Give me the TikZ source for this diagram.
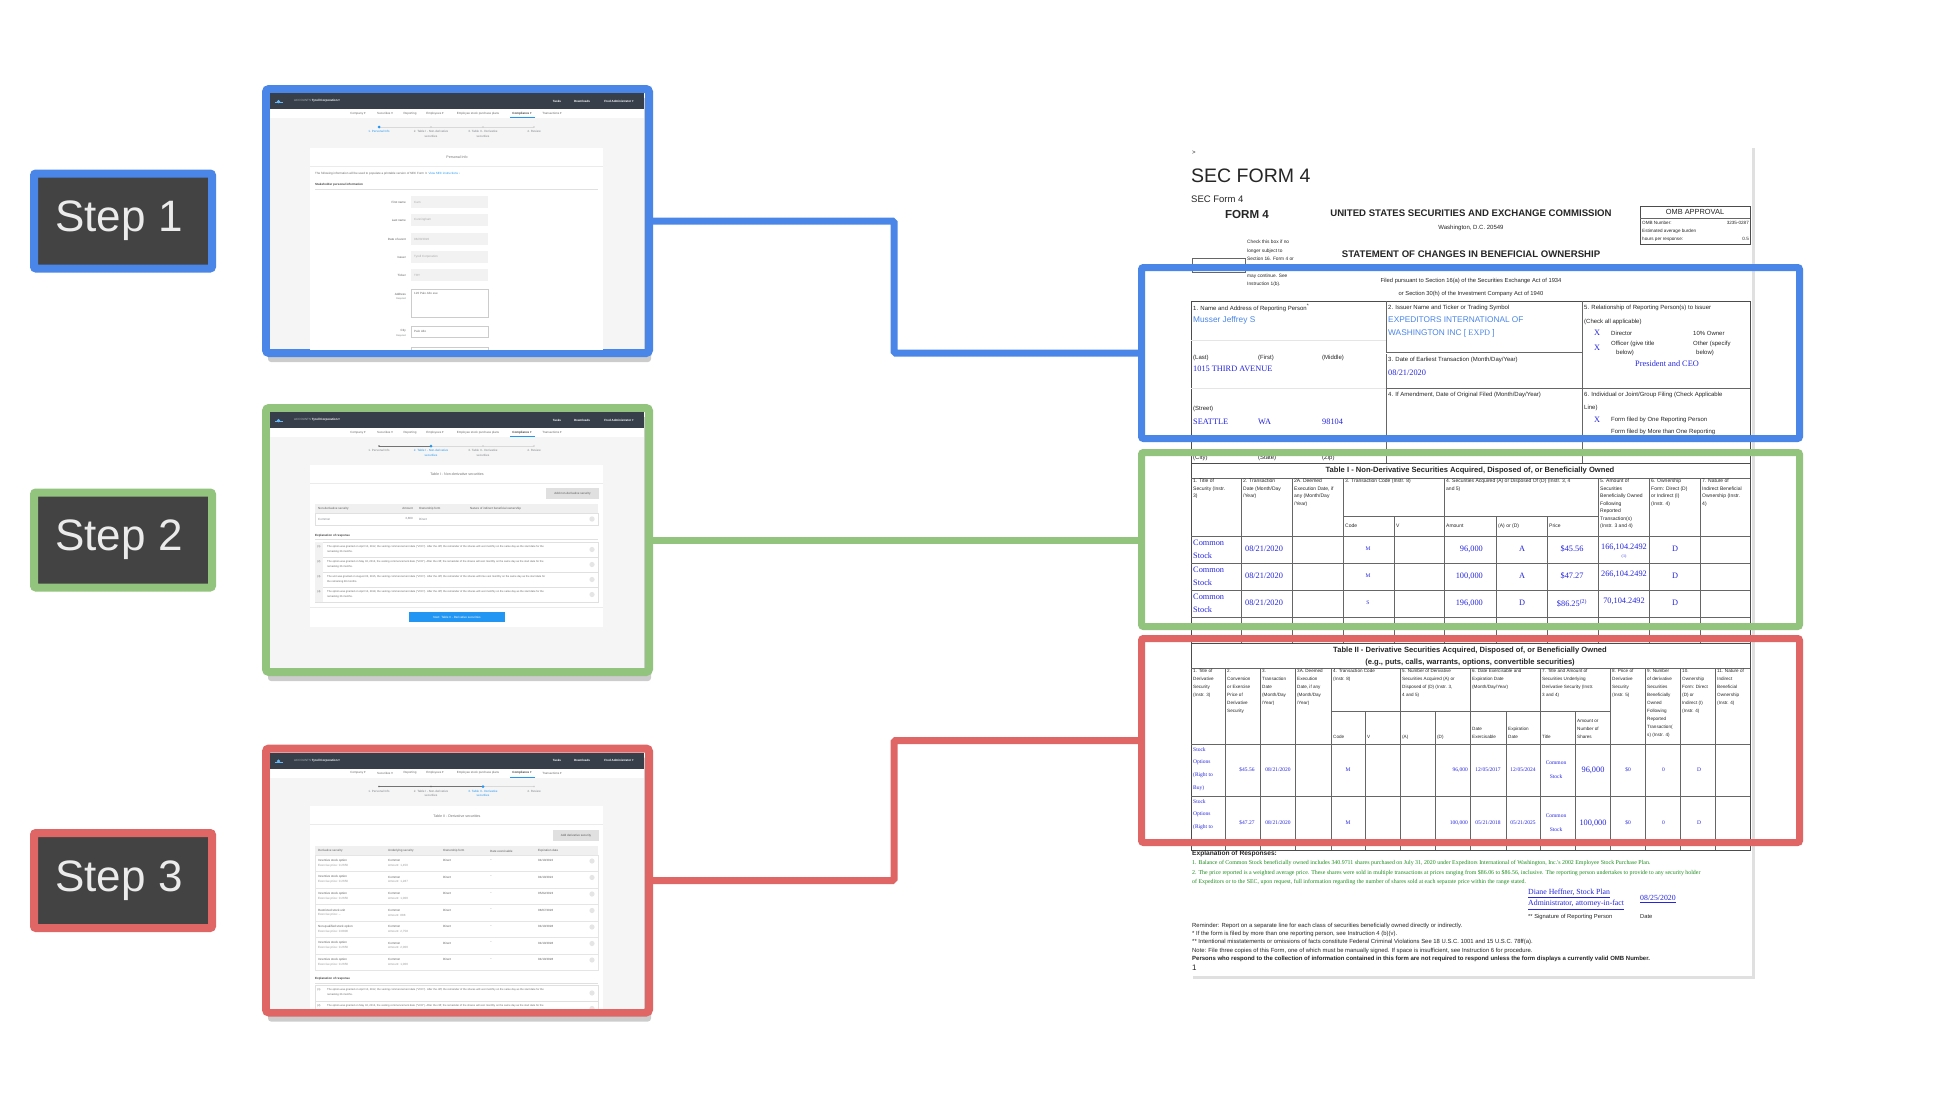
\documentclass[tikz,border=0pt]{standalone}
\usepackage{fontspec}
\setmainfont{Liberation Sans}
\newfontfamily\serifface{Liberation Serif}
\newfontfamily\symface{DejaVu Sans}
\usepackage{tikz}
\usepackage{xcolor}
\usetikzlibrary{positioning, shadows}

\definecolor{stepblue}{HTML}{4A86E8}
\definecolor{stepgreen}{HTML}{93C47D}
\definecolor{stepred}{HTML}{E06666}
\definecolor{stepfill}{HTML}{434343}
\definecolor{uidark}{HTML}{37404A}
\definecolor{uibg}{HTML}{F5F5F5}
\definecolor{uiblue}{HTML}{2196F3}
\definecolor{uitext}{HTML}{7D8288}
\definecolor{formblue}{HTML}{4A86E8}
\definecolor{valblue}{HTML}{2525E0}
\definecolor{notegreen}{HTML}{1B8A1B}

\newcommand{\fsz}[2]{\fontsize{#1}{#2}\selectfont}
\newcommand{\dropd}{{\symface ▾}}

\tikzset{
  uitx/.style={inner sep=0pt, font=\fsz{3}{4.4}, text=uitext},
  ftx/.style={inner sep=0pt, anchor=west, font=\fsz{6}{7}, text=black!85},
  fhead/.style={inner sep=0pt, anchor=north west, align=left, font=\fsz{5}{7.5}, text=black!85},
  fval/.style={inner sep=0pt, font=\serifface\fsz{8.3}{9.5}, text=valblue},
  fvs/.style={inner sep=0pt, font=\serifface\fsz{5.5}{6.5}, text=valblue},
  fsans/.style={inner sep=0pt, anchor=west, font=\fsz{8.3}{10}, text=formblue},
  fline/.style={draw=black!60, line width=.5pt},
  fbox/.style={draw=black!70, line width=.8pt},
}

% header, menu and wizard steps of one app screenshot (local y from its top)
\newcommand{\uichrome}[1]{%
  \fill[uibg] (270,0) rectangle (644,256);
  \fill[uidark] (270,0) rectangle (644,16);
  \fill[uiblue!70!white] (275,9) rectangle (283,10.4);
  \fill[uiblue!70!white] (278.5,8.6) circle (1.7);
  \node[uitx, anchor=west, text=white!60!uidark] at (294,8) {ACCOUNTS \textcolor{white}{\textbf{Tyrell Corporation} \dropd}};
  \node[uitx, text=white] at (557,8) {\textbf{Tasks}};
  \node[uitx, text=white] at (582,8) {\textbf{Downloads}};
  \node[uitx, text=white] at (619,8) {\textbf{Fred Administrator} \dropd};
  \fill[white] (270,16) rectangle (644,25);
  \foreach \nx/\navlab in {358/{Company \dropd}, 385/{Securities \dropd}, 410/Reporting,
      435/{Employees \dropd}, 478/Employee stock purchase plans, 552/{Transactions \dropd}}
    \node[uitx, text=black!60] at (\nx,20.5) {\navlab};
  \node[uitx, text=black!75] at (522,20.5) {\textbf{Compliance} \dropd};
  \draw[uiblue, line width=.7pt] (510,24.6) -- (535,24.6);
  \draw[black!15, line width=.6pt] (379,34) -- (534,34);
  \ifnum#1>1 \draw[black!55, line width=.6pt] (379,34) -- ({379+52*(#1-1)},34);\fi
  \foreach \s/\sx/\slab in {1/379/{1. Personal Info}, 2/431/{2. Table I - Non-derivative\\securities},
      3/483/{3. Table II - Derivative\\securities}, 4/534/{4. Review}} {
    \ifnum\s=#1\relax
      \fill[uiblue] (\sx,34) circle (1.5);
      \node[uitx, text=uiblue, anchor=north, align=center] at (\sx,37.5) {\slab};
    \else
      \ifnum\s<#1\relax \fill[black!60] (\sx,34) circle (.9);\else \fill[black!20] (\sx,34) circle (.9);\fi
      \node[uitx, anchor=north, align=center] at (\sx,37.5) {\slab};
    \fi
  }
}

\begin{document}
\begin{tikzpicture}[x=1pt, y=-1pt,
    stepbox/.style={draw=#1, line width=8pt, fill=stepfill, rounded corners=2pt,
      minimum width=178pt, minimum height=95pt, text=white!92!black, font=\fsz{44}{50}},
    shotframe/.style={draw=#1, line width=8pt, rounded corners=3pt,
      minimum width=383pt, minimum height=264pt,
      drop shadow={shadow xshift=2pt, shadow yshift=-9pt, opacity=.2, fill=black}},
    hlbox/.style={draw=#1, line width=7pt, rounded corners=2pt, inner sep=0pt, minimum width=658pt},
    link/.style={draw=#1, line width=7pt, rounded corners=1.5pt},
    formsheet/.style={fill=white, inner sep=0pt, minimum width=562pt, minimum height=831pt,
      drop shadow={shadow xshift=2.5pt, shadow yshift=-3pt, opacity=.12, fill=black}}]

\useasboundingbox (0,0) rectangle (1957,1100);
\fill[white] (0,0) rectangle (1957,1100);

% screenshots of the three wizard pages
\node[shotframe=stepblue] (shot1) at (457.5,221) {};
\node[shotframe=stepgreen] (shot2) at (457.5,540) {};
\node[shotframe=stepred] (shot3) at (457.5,880.5) {};

% step 1: personal info
\begin{scope}[shift={(0,93)}]
  \clip (270,0) rectangle (644,256);
  \uichrome{1}
  \fill[white] (310,55) rectangle (603,270);
  \node[uitx, font=\fsz{3.6}{4.4}, text=black!55] at (457,64) {Personal Info};
  \draw[black!8, line width=.6pt] (310,73) -- (603,73);
  \node[uitx, anchor=west, text=black!60] at (315,81) {The following information will be used to populate a printable version of SEC Form 3. \textcolor{uiblue}{View SEC instructions ›}};
  \node[uitx, anchor=west, text=black!75] at (315,92) {\textbf{Stakeholder personal information}};
  \draw[black!12, line width=.5pt] (315,96) -- (598,96);
  \foreach \fy/\fname/\fvalue in {109/First name/Cam, 127/Last name/Cunningham,
      146/Date of event/{08/20/2020}, 164/Issuer/Tyrell Corporation, 182/Ticker/TRY} {
    \node[uitx, anchor=east, text=black!65] at (406,\fy) {\fname};
    \fill[black!5] (411,\fy-5.6) rectangle (488,\fy+5.6);
    \node[uitx, anchor=west, text=black!35] at (414,\fy) {\fvalue};
  }
  \node[uitx, anchor=east, text=black!65] at (406,201) {Address};
  \node[uitx, anchor=east, font=\fsz{2.4}{3}] at (406,206) {Required};
  \draw[black!20, fill=white, line width=.4pt] (411,196) rectangle (488,224);
  \node[uitx, anchor=west, text=black!60] at (414,200) {120 Palo Alto ave};
  \node[uitx, anchor=east, text=black!65] at (406,238) {City};
  \node[uitx, anchor=east, font=\fsz{2.4}{3}] at (406,243) {Required};
  \draw[black!20, fill=white, line width=.4pt] (411,233) rectangle (488,244);
  \node[uitx, anchor=west, text=black!60] at (414,238.5) {Palo Alto};
  \draw[black!20, fill=white, line width=.4pt] (411,254) rectangle (488,266);
\end{scope}

% step 2: table I
\begin{scope}[shift={(0,412)}]
  \clip (270,0) rectangle (644,256);
  \uichrome{2}
  \fill[white] (310,53) rectangle (603,215);
  \node[uitx, font=\fsz{3.6}{4.4}, text=black!55] at (457,62) {Table I - Non-derivative securities};
  \draw[black!8, line width=.6pt] (310,71) -- (603,71);
  \fill[black!12] (546,76) rectangle (599,87);
  \node[uitx, text=black!65] at (572.5,81.5) {Add non-derivative security};
  \fill[black!6] (315,92) rectangle (598,101);
  \node[uitx, anchor=west, text=black!65] at (318,96.5) {Non-derivative security};
  \node[uitx, anchor=east, text=black!65] at (413,96.5) {Amount};
  \node[uitx, anchor=west, text=black!65] at (419,96.5) {Ownership form};
  \node[uitx, anchor=west, text=black!65] at (470,96.5) {Nature of indirect beneficial ownership};
  \draw[black!12, fill=white, line width=.4pt] (315,101) rectangle (598,113);
  \node[uitx, anchor=west] at (318,107) {Common};
  \node[uitx, anchor=east] at (413,107) {3,809};
  \node[uitx, anchor=west] at (419,107) {Direct};
  \fill[black!10] (592,107) circle (2.7);
  \node[uitx, anchor=west, text=black!75] at (315,124) {\textbf{Explanation of response}};
  \draw[black!12, line width=.5pt] (315,127) -- (598,127);
  \foreach \k/\et/\eu in {
      1/{The option was granted on April 10, 2012, the vesting commencement date ("VCD"). After the cliff, the remainder of the shares will vest monthly on the same day as the start date for the}/{remaining 36 months.},
      2/{The option was granted on May 02, 2013, the vesting commencement date ("VCD"). After the cliff, the remainder of the shares will vest monthly on the same day as the start date for the}/{remaining 36 months.},
      3/{The unit was granted on August 03, 2015, the vesting commencement date ("VCD"). After the cliff, the remainder of the shares will time vest monthly on the same day as the start date for}/{the remaining 28 months.},
      4/{The option was granted on April 10, 2018, the vesting commencement date ("VCD"). After the cliff, the remainder of the shares will vest monthly on the same day as the start date for the}/{remaining 36 months.}} {
    \pgfmathsetmacro\ey{130+15*(\k-1)}
    \draw[black!12, fill=white, line width=.4pt] (315,\ey) rectangle (598,\ey+15);
    \fill[black!5] (315.3,\ey+.3) rectangle (323,\ey+14.7);
    \node[uitx, font=\fsz{2.6}{3}, text=black!65] at (319,\ey+5) {(\k)};
    \node[uitx, anchor=west, font=\fsz{2.65}{3}, text=black!60] at (327,\ey+5) {\et};
    \node[uitx, anchor=west, font=\fsz{2.65}{3}, text=black!60] at (327,\ey+9.8) {\eu};
    \fill[black!10] (592,\ey+7.5) circle (2.6);
  }
  \draw[black!8, line width=.6pt] (310,195) -- (603,195);
  \fill[uiblue] (409,200) rectangle (505,210);
  \node[uitx, text=white] at (457,205) {Next: Table II - Derivative securities};
\end{scope}

% step 3: table II
\begin{scope}[shift={(0,752.5)}]
  \clip (270,0) rectangle (644,256);
  \uichrome{3}
  \fill[white] (310,53.5) rectangle (603,270);
  \node[uitx, font=\fsz{3.6}{4.4}, text=black!55] at (457,63.5) {Table II - Derivative securities};
  \draw[black!8, line width=.6pt] (310,71.5) -- (603,71.5);
  \fill[black!12] (553,77.5) rectangle (599,88.5);
  \node[uitx, text=black!65] at (576,83) {Add derivative security};
  \fill[black!6] (315,93.5) rectangle (598,102.5);
  \foreach \hx/\hl in {318/Derivative security, 388/Underlying security, 443/Ownership form,
      490/Date exercisable, 538/Expiration date}
    \node[uitx, anchor=west, text=black!65] at (\hx,98.5) {\hl};
  \foreach \k/\da/\db/\ub/\ex in {
      1/Incentive stock option/{Exercise price: 0.2650}/{Amount: 1,450}/{04/10/2022},
      2/Incentive stock option/{Exercise price: 0.2650}/{Amount: 1,287}/{04/10/2022},
      3/Incentive stock option/{Exercise price: 0.2650}/{Amount: 1,000}/{05/02/2023},
      4/Restricted stock unit/{Exercise price: --}/{Amount: 888}/{08/07/2026},
      5/Non-qualified stock option/{Exercise price: 0.8800}/{Amount: 2,758}/{04/10/2028},
      6/Incentive stock option/{Exercise price: 0.2650}/{Amount: 2,000}/{04/10/2028},
      7/Incentive stock option/{Exercise price: 0.2650}/{Amount: 1,000}/{04/10/2028}} {
    \pgfmathsetmacro\ry{102.5+16.5*(\k-1)}
    \draw[black!10, fill=white, line width=.4pt] (315,\ry) rectangle (598,\ry+16.5);
    \node[uitx, anchor=west, text=black!65] at (318,\ry+5.5) {\da};
    \node[uitx, anchor=west, text=black!40] at (318,\ry+10.5) {\db};
    \node[uitx, anchor=west, text=black!65] at (388,\ry+5.5) {Common};
    \node[uitx, anchor=west, text=black!40] at (388,\ry+10.5) {\ub};
    \node[uitx, anchor=west, text=black!65] at (443,\ry+5.5) {Direct};
    \node[uitx, anchor=west, text=black!50] at (490,\ry+5) {--};
    \node[uitx, anchor=west, text=black!65] at (538,\ry+5.5) {\ex};
    \fill[black!10] (592,\ry+6) circle (2.6);
  }
  \node[uitx, anchor=west, text=black!75] at (315,226.5) {\textbf{Explanation of response}};
  \draw[black!12, line width=.5pt] (315,230.5) -- (598,230.5);
  \draw[black!12, fill=white, line width=.4pt] (315,232.5) rectangle (598,248.5);
  \draw[black!12, fill=white, line width=.4pt] (315,248.5) rectangle (598,264.5);
  \node[uitx, font=\fsz{2.6}{3}, text=black!65] at (319,237.5) {(1)};
  \node[uitx, anchor=west, font=\fsz{2.65}{3}, text=black!60] at (327,237.5) {The option was granted on April 10, 2012, the vesting commencement date ("VCD"). After the cliff, the remainder of the shares will vest monthly on the same day as the start date for the};
  \node[uitx, anchor=west, font=\fsz{2.65}{3}, text=black!60] at (327,242.5) {remaining 36 months.};
  \fill[black!10] (592,240.5) circle (2.6);
  \node[uitx, font=\fsz{2.6}{3}, text=black!65] at (319,253) {(2)};
  \node[uitx, anchor=west, font=\fsz{2.65}{3}, text=black!60] at (327,253) {The option was granted on May 02, 2013, the vesting commencement date ("VCD"). After the cliff, the remainder of the shares will vest monthly on the same day as the start date for the};
  \fill[black!10] (592,256) circle (2.6);
\end{scope}

% step labels
\node[stepbox=stepblue, left=46pt of shot1] (step1) {\hspace*{-8pt}Step 1};
\node[stepbox=stepgreen, left=46pt of shot2] (step2) {\hspace*{-8pt}Step 2};
\node[stepbox=stepred, left=46pt of shot3] (step3) {\hspace*{-8pt}Step 3};

% SEC form 4
\node[formsheet] (form) at (1471,560.5) {};
\node[ftx] at (1192,153) {>};
\node[ftx, font=\fsz{19.5}{22}] at (1191,176) {SEC FORM 4};
\node[ftx, font=\fsz{9.5}{11}] at (1191,199) {SEC Form 4};
\node[ftx, anchor=center, font=\bfseries\fsz{11.6}{13}] at (1247,215) {FORM 4};
\node[ftx, anchor=center, font=\bfseries\fsz{9.6}{11}] at (1471,213) {UNITED STATES SECURITIES AND EXCHANGE COMMISSION};
\node[ftx, anchor=center] at (1471,228) {Washington, D.C. 20549};
\draw[fbox] (1640,206) rectangle (1750,244);
\draw[fline] (1640,218) -- (1750,218);
\node[ftx, anchor=center, font=\fsz{7.4}{8}] at (1695,212) {OMB APPROVAL};
\node[ftx, font=\fsz{4.6}{5}] at (1642,223) {OMB Number:};
\node[ftx, anchor=east, font=\fsz{4.6}{5}] at (1749,223) {3235-0287};
\node[ftx, font=\fsz{4.6}{5}] at (1642,231.5) {Estimated average burden};
\node[ftx, font=\fsz{4.6}{5}] at (1642,239) {hours per response:};
\node[ftx, anchor=east, font=\fsz{4.6}{5}] at (1749,239) {0.5};
\draw[black!60, line width=.6pt] (1192,258) rectangle (1245,272);
\node[ftx, anchor=north west, align=left, font=\fsz{4.8}{8.4}] at (1247,240) {Check this box if no\\longer subject to\\Section 16. Form 4 or\\Form 5 obligations\\may continue. See\\Instruction 1(b).};
\node[ftx, anchor=center, font=\bfseries\fsz{9.6}{11}] at (1471,254) {STATEMENT OF CHANGES IN BENEFICIAL OWNERSHIP};
\node[ftx, anchor=center, font=\fsz{5.8}{7}] at (1471,281) {Filed pursuant to Section 16(a) of the Securities Exchange Act of 1934};
\node[ftx, anchor=center, font=\fsz{5.8}{7}] at (1471,294) {or Section 30(h) of the Investment Company Act of 1940};

% boxes 1 to 6
\draw[fbox] (1191,301) rectangle (1750,463);
\draw[fline] (1386,301) -- (1386,463);
\draw[fline] (1582,301) -- (1582,463);
\draw[fline, double=white, double distance=.6pt] (1386,353) -- (1582,353);
\draw[fline] (1386,388) -- (1750,388);
\draw[black!10, line width=.6pt] (1191,340) -- (1386,340);
\draw[black!10, line width=.6pt] (1191,388) -- (1386,388);
\node[ftx] at (1193,308) {1. Name and Address of Reporting Person\textsuperscript{*}};
\node[fsans] at (1193,320) {Musser Jeffrey S};
\node[ftx] at (1193,358) {(Last)};
\node[ftx] at (1258,358) {(First)};
\node[ftx] at (1322,358) {(Middle)};
\node[fval, anchor=west] at (1193,369) {1015 THIRD AVENUE};
\node[ftx] at (1193,409) {(Street)};
\node[fval, anchor=west] at (1193,422) {SEATTLE};
\node[fval, anchor=west] at (1258,422) {WA};
\node[fval, anchor=west] at (1322,422) {98104};
\node[ftx] at (1193,458) {(City)};
\node[ftx] at (1258,458) {(State)};
\node[ftx] at (1322,458) {(Zip)};
\node[ftx] at (1388,308) {2. Issuer Name and Ticker or Trading Symbol};
\node[fsans] at (1388,320) {EXPEDITORS INTERNATIONAL OF};
\node[fsans] at (1388,333) {WASHINGTON INC [ {\serifface EXPD} ]};
\node[ftx] at (1388,360) {3. Date of Earliest Transaction (Month/Day/Year)};
\node[fval, anchor=west] at (1388,373) {08/21/2020};
\node[ftx] at (1388,395) {4. If Amendment, Date of Original Filed (Month/Day/Year)};
\node[ftx] at (1584,308) {5. Relationship of Reporting Person(s) to Issuer};
\node[ftx] at (1584,322) {(Check all applicable)};
\node[fval] at (1597,333) {X};
\node[ftx] at (1611,333) {Director};
\node[ftx] at (1693,333) {10\% Owner};
\node[fval] at (1597,348) {X};
\node[ftx] at (1611,344) {Officer (give title};
\node[ftx] at (1616,353) {below)};
\node[ftx] at (1693,344) {Other (specify};
\node[ftx] at (1696,353) {below)};
\node[fval] at (1667,364) {President and CEO};
\node[ftx] at (1584,395) {6. Individual or Joint/Group Filing (Check Applicable};
\node[ftx] at (1584,408) {Line)};
\node[fval] at (1597,420) {X};
\node[ftx] at (1611,420) {Form filed by One Reporting Person};
\node[ftx] at (1611,432) {Form filed by More than One Reporting};

% table I
\draw[fbox] (1191,463) rectangle (1750,643);
\draw[fline] (1191,478) -- (1750,478);
\node[ftx, anchor=center, font=\bfseries\fsz{7.6}{9}] at (1470,471) {Table I - Non-Derivative Securities Acquired, Disposed of, or Beneficially Owned};
\foreach \cx in {1241,1292.5,1343,1444.5,1598,1649,1700}
  \draw[fline] (\cx,478) -- (\cx,643);
\foreach \cx in {1394,1496,1547}
  \draw[fline] (\cx,516) -- (\cx,643);
\draw[fline] (1343,516) -- (1598,516);
\foreach \ry in {536,563,590,617}
  \draw[fline] (1191,\ry) -- (1750,\ry);
\node[fhead] at (1193,479) {1. Title of\\Security (Instr.\\3)};
\node[fhead] at (1243,479) {2. Transaction\\Date (Month/Day\\/Year)};
\node[fhead] at (1294,479) {2A. Deemed\\Execution Date, if\\any (Month/Day\\/Year)};
\node[fhead] at (1345,479) {3. Transaction Code (Instr. 8)};
\node[fhead] at (1446,479) {4. Securities Acquired (A) or Disposed Of (D) (Instr. 3, 4\\and 5)};
\node[fhead] at (1600,479) {5. Amount of\\Securities\\Beneficially Owned\\Following\\Reported\\Transaction(s)\\(Instr. 3 and 4)};
\node[fhead] at (1651,479) {6. Ownership\\Form: Direct (D)\\or Indirect (I)\\(Instr. 4)};
\node[fhead] at (1702,479) {7. Nature of\\Indirect Beneficial\\Ownership (Instr.\\4)};
\node[ftx, font=\fsz{5}{6}] at (1345,526) {Code};
\node[ftx, font=\fsz{5}{6}] at (1396,526) {V};
\node[ftx, font=\fsz{5}{6}] at (1446,526) {Amount};
\node[ftx, font=\fsz{5}{6}] at (1498,526) {(A) or (D)};
\node[ftx, font=\fsz{5}{6}] at (1549,526) {Price};
\foreach \ry/\tc/\amt/\ad/\pr/\own in {549/M/{96,000}/A/{\$45.56}/{166,104.2492},
    576/M/{100,000}/A/{\$47.27}/{266,104.2492},
    603/S/{196,000}/D/{\$86.25\textsuperscript{(2)}}/{70,104.2492}} {
  \node[fval, anchor=west] at (1193,\ry-6.5) {Common};
  \node[fval, anchor=west] at (1193,\ry+6.5) {Stock};
  \node[fval] at (1264,\ry) {08/21/2020};
  \node[fvs] at (1368,\ry) {\tc};
  \node[fval, anchor=east] at (1483,\ry) {\amt};
  \node[fval] at (1522,\ry) {\ad};
  \node[fval] at (1572,\ry) {\pr};
  \node[fval] at (1624,\ry-2) {\own};
  \node[fval] at (1675,\ry) {D};
}
\node[fvs, font=\serifface\fsz{4}{5}] at (1624,557) {(1)};

% table II
\draw[fbox] (1191,643) rectangle (1750,850);
\draw[fline] (1191,668) -- (1750,668);
\node[ftx, anchor=center, font=\bfseries\fsz{7.6}{9}] at (1470,651) {Table II - Derivative Securities Acquired, Disposed of, or Beneficially Owned};
\node[ftx, anchor=center, font=\bfseries\fsz{7.6}{9}] at (1470,663) {(e.g., puts, calls, warrants, options, convertible securities)};
\foreach \cx in {1225,1260,1295,1331,1400,1470,1540,1610,1645,1680,1715}
  \draw[fline] (\cx,668) -- (\cx,850);
\foreach \cx in {1365,1435,1506,1575.5}
  \draw[fline] (\cx,711) -- (\cx,850);
\draw[fline] (1331,711) -- (1610,711);
\foreach \ry in {744,796}
  \draw[fline] (1191,\ry) -- (1750,\ry);
\begin{scope}[every node/.style={fhead, font=\fsz{4.6}{8}}]
  \node at (1193,669) {1. Title of\\Derivative\\Security\\(Instr. 3)};
  \node at (1227,669) {2.\\Conversion\\or Exercise\\Price of\\Derivative\\Security};
  \node at (1262,669) {3.\\Transaction\\Date\\(Month/Day\\/Year)};
  \node at (1297,669) {3A. Deemed\\Execution\\Date, if any\\(Month/Day\\/Year)};
  \node at (1333,669) {4. Transaction Code\\(Instr. 8)};
  \node at (1402,669) {5. Number of Derivative\\Securities Acquired (A) or\\Disposed of (D) (Instr. 3,\\4 and 5)};
  \node at (1472,669) {6. Date Exercisable and\\Expiration Date\\(Month/Day/Year)};
  \node at (1542,669) {7. Title and Amount of\\Securities Underlying\\Derivative Security (Instr.\\3 and 4)};
  \node at (1612,669) {8. Price of\\Derivative\\Security\\(Instr. 5)};
  \node at (1647,669) {9. Number\\of derivative\\Securities\\Beneficially\\Owned\\Following\\Reported\\Transaction(\\s) (Instr. 4)};
  \node at (1682,669) {10.\\Ownership\\Form: Direct\\(D) or\\Indirect (I)\\(Instr. 4)};
  \node at (1717,669) {11. Nature of\\Indirect\\Beneficial\\Ownership\\(Instr. 4)};
  \node at (1333,735) {Code};
  \node at (1367,735) {V};
  \node at (1402,735) {(A)};
  \node at (1437,735) {(D)};
  \node at (1472,727) {Date\\Exercisable};
  \node at (1508,727) {Expiration\\Date};
  \node at (1542,735) {Title};
  \node at (1577,719) {Amount or\\Number of\\Shares};
\end{scope}
\node[fvs, anchor=north west, align=left, font=\serifface\fsz{5.5}{12.7}] at (1193,747) {Stock\\Options\\(Right to\\Buy)};
\node[fvs, anchor=north west, align=left, font=\serifface\fsz{5.5}{12.7}] at (1193,799) {Stock\\Options\\(Right to};
\foreach \ry/\cp/\amt/\de/\xd in {770/{\$45.56}/{96,000}/{12/05/2017}/{12/05/2024},
    823/{\$47.27}/{100,000}/{05/21/2018}/{05/21/2025}} {
  \node[fvs] at (1247,\ry) {\cp};
  \node[fvs] at (1278,\ry) {08/21/2020};
  \node[fvs] at (1348,\ry) {M};
  \node[fvs, anchor=east] at (1468,\ry) {\amt};
  \node[fvs] at (1488,\ry) {\de};
  \node[fvs] at (1523,\ry) {\xd};
  \node[fvs] at (1556,\ry-7) {Common};
  \node[fvs] at (1556,\ry+7) {Stock};
  \node[fval] at (1593,\ry) {\amt};
  \node[fvs] at (1628,\ry) {\$0};
  \node[fvs] at (1663.5,\ry) {0};
  \node[fvs] at (1699,\ry) {D};
}

% explanation and signature
\node[ftx, font=\bfseries\fsz{6.6}{8}] at (1192,854) {Explanation of Responses:};
\begin{scope}[every node/.style={ftx, font=\serifface\fsz{5.9}{7}, text=notegreen}]
  \node at (1192,863) {1. Balance of Common Stock beneficially owned includes 340.9711 shares purchased on July 31, 2020 under Expeditors International of Washington, Inc.'s 2002 Employee Stock Purchase Plan.};
  \node at (1192,873) {2. The price reported is a weighted average price. These shares were sold in multiple transactions at prices ranging from \$86.06 to \$86.56, inclusive. The reporting person undertakes to provide to any security holder};
  \node at (1192,882) {of Expeditors or to the SEC, upon request, full information regarding the number of shares sold at each separate price within the range stated.};
\end{scope}
\node[fval, anchor=west, font=\serifface\fsz{7.8}{9}] at (1528,893) {\underline{Diane Heffner, Stock Plan}};
\node[fval, anchor=west, font=\serifface\fsz{7.8}{9}] at (1528,905) {\underline{Administrator, attorney-in-fact}};
\node[fval, anchor=west, font=\serifface\fsz{7.8}{9}] at (1640,899) {\underline{08/25/2020}};
\node[ftx, font=\fsz{5.8}{7}] at (1528,917) {** Signature of Reporting Person};
\node[ftx, font=\fsz{5.8}{7}] at (1640,917) {Date};
\begin{scope}[every node/.style={ftx, font=\fsz{5.9}{7}}]
  \node at (1192,926) {Reminder: Report on a separate line for each class of securities beneficially owned directly or indirectly.};
  \node at (1192,934) {* If the form is filed by more than one reporting person, see Instruction 4 (b)(v).};
  \node at (1192,942) {** Intentional misstatements or omissions of facts constitute Federal Criminal Violations See 18 U.S.C. 1001 and 15 U.S.C. 78ff(a).};
  \node at (1192,951) {Note: File three copies of this Form, one of which must be manually signed. If space is insufficient, see Instruction 6 for procedure.};
  \node[font=\bfseries\fsz{6}{7}] at (1192,959) {Persons who respond to the collection of information contained in this form are not required to respond unless the form displays a currently valid OMB Number.};
  \node[font=\fsz{8}{9}] at (1192,967.5) {1};
\end{scope}

% highlighted parts of the form
\node[hlbox=stepblue, minimum height=171pt] (hl1) at (1470.5,353) {};
\node[hlbox=stepgreen, minimum height=174pt] (hl2) at (1470.5,539.5) {};
\node[hlbox=stepred, minimum height=204pt] (hl3) at (1470.5,740.5) {};

% connectors
\coordinate (bend1) at (894,300);
\coordinate (bend3) at (894,800);
\draw[link=stepblue] (shot1.east) -| (bend1) |- (hl1.west);
\draw[link=stepgreen] (shot2.east) -- (shot2.east -| hl2.west);
\draw[link=stepred] (hl3.west) -| (bend3) |- (shot3.east);
\end{tikzpicture}
\end{document}
